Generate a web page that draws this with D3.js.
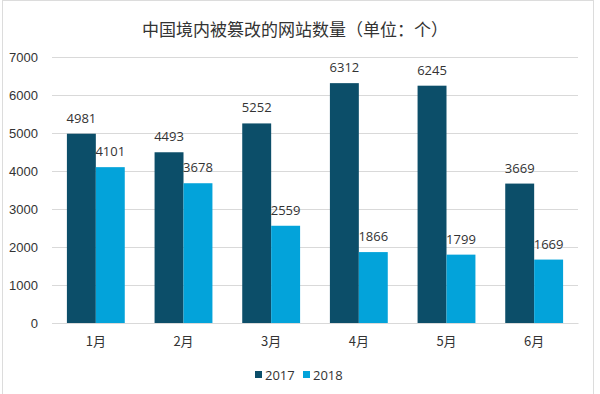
<!DOCTYPE html>
<html>
<head>
<meta charset="utf-8">
<script src="https://cdn.jsdelivr.net/npm/d3@7"></script>
<style>
  body { margin: 0; background: #fff; }
  svg { font-family: "Open Sans", "Noto Sans CJK SC", sans-serif; }
</style>
</head>
<body>
<svg width="600" height="394"></svg>
<script>
const months = ["1月", "2月", "3月", "4月", "5月", "6月"];
const series = ["2017", "2018"];
const values2017 = [4981, 4493, 5252, 6312, 6245, 3669];
const values2018 = [4101, 3678, 2559, 1866, 1799, 1669];
const yTicks = [0, 1000, 2000, 3000, 4000, 5000, 6000, 7000];
const colors = ["#0c4e69", "#03a3da"];

const svg = d3.select("svg");
const margin = { top: 57, right: 22, bottom: 71, left: 52 };
const width = 600 - margin.left - margin.right;
const height = 394 - margin.top - margin.bottom;

// outer frame
svg.append("rect")
  .attr("x", 2.5).attr("y", 0.5)
  .attr("width", 591).attr("height", 400)
  .attr("fill", "none")
  .attr("stroke", "#dcdcdc");

svg.append("text")
  .attr("x", 295).attr("y", 36)
  .attr("text-anchor", "middle")
  .attr("font-family", "'Noto Sans CJK SC', sans-serif")
  .attr("font-size", 17)
  .attr("fill", "#333")
  .text("中国境内被篡改的网站数量（单位：个）");

const g = svg.append("g").attr("transform", `translate(${margin.left},${margin.top})`);

const x = d3.scaleBand().domain(months).range([0, width]).paddingInner(0.34).paddingOuter(0.17);
const xs = d3.scaleBand().domain(series).range([0, x.bandwidth()]);
const y = d3.scaleLinear().domain([0, 7000]).range([height, 0]);

// gridlines + y labels
g.append("g")
  .call(d3.axisLeft(y).tickValues(yTicks).tickFormat(d3.format("d")).tickSize(-width).tickPadding(14))
  .call(ax => ax.select(".domain").remove())
  .call(ax => ax.selectAll("line").attr("stroke", "#d9d9d9"))
  .call(ax => ax.selectAll("text").attr("font-size", 13).attr("fill", "#333"));

const data = months.map((m, i) => ({ month: m, vals: [values2017[i], values2018[i]] }));

const groups = g.selectAll(".grp")
  .data(data)
  .enter()
  .append("g")
  .attr("transform", d => `translate(${x(d.month)},0)`);

groups.selectAll("rect")
  .data(d => d.vals.map((v, k) => ({ key: series[k], value: v, k })))
  .enter()
  .append("rect")
  .attr("x", d => xs(d.key))
  .attr("width", xs.bandwidth())
  .attr("y", d => y(d.value))
  .attr("height", d => height - y(d.value))
  .attr("fill", d => colors[d.k]);

groups.selectAll(".lbl")
  .data(d => d.vals.map((v, k) => ({ key: series[k], value: v })))
  .enter()
  .append("text")
  .attr("x", d => xs(d.key) + xs.bandwidth() / 2)
  .attr("y", d => y(d.value) - 11)
  .attr("text-anchor", "middle")
  .attr("font-size", 13)
  .attr("fill", "#333")
  .text(d => d.value);

// x axis
g.append("g")
  .attr("transform", `translate(0,${height})`)
  .call(d3.axisBottom(x).tickSize(0).tickPadding(14))
  .call(ax => ax.select(".domain").attr("stroke", "#d9d9d9"))
  .call(ax => ax.selectAll("text")
    .attr("font-family", "'Noto Sans CJK SC', sans-serif")
    .attr("font-size", 13).attr("fill", "#333"));

// legend
const legend = svg.append("g").attr("transform", "translate(255,369)");
const li = legend.selectAll("g")
  .data(series)
  .enter()
  .append("g")
  .attr("transform", (d, i) => `translate(${i * 48},0)`);
li.append("rect").attr("width", 7).attr("height", 7).attr("y", 2).attr("fill", (d, i) => colors[i]);
li.append("text").attr("x", 10).attr("y", 10.5).attr("font-size", 13).attr("fill", "#333").text(d => d);
</script>
</body>
</html>
